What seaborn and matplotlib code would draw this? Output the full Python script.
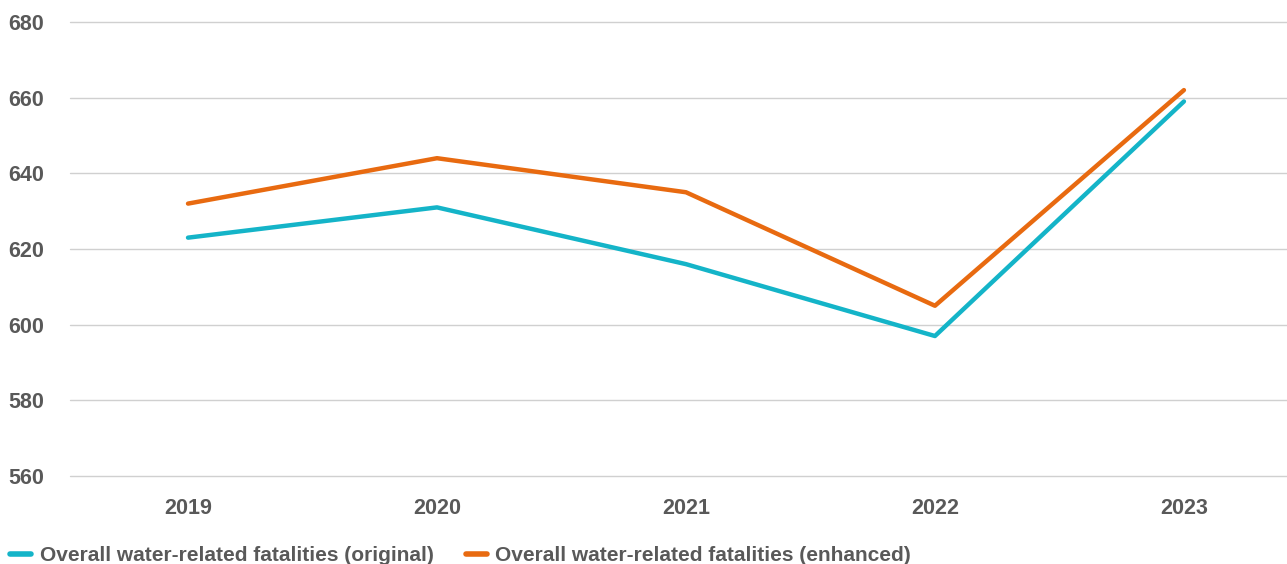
import numpy as np
import pandas as pd
import matplotlib
matplotlib.use("Agg")
import matplotlib.pyplot as plt
import matplotlib.transforms as mtransforms
from matplotlib.lines import Line2D
import seaborn as sns

years = ["2019", "2020", "2021", "2022", "2023"]
original = [623, 631, 616, 597, 659]
enhanced = [632, 644, 635, 605, 662]
series_names = ["Overall water-related fatalities (original)",
                "Overall water-related fatalities (enhanced)"]
y_ticks = [560, 580, 600, 620, 640, 660, 680]

sns.set_theme(style="white")
plt.rcParams['font.family'] = ['Liberation Sans', 'DejaVu Sans']

df = pd.DataFrame({
    'year': years * 2,
    'value': original + enhanced,
    'series': [series_names[0]] * len(years) + [series_names[1]] * len(years),
})

text_color = '#595959'
colors = ['#14B4C8', '#E86A10']

fig = plt.figure(figsize=(12.87, 5.64), dpi=100)
ax = fig.add_axes([0.0544, 0.156, 0.9456, 0.805])

# horizontal gridlines
for y in y_ticks:
    ax.axhline(y, color='#d0d0d0', linewidth=1.0, zorder=0, clip_on=False)

sns.lineplot(data=df, x='year', y='value', hue='series',
             palette=colors, linewidth=3.2,
             sort=False, ax=ax, legend=False)

ax.set_ylim(560, 680)
ax.set_yticks(y_ticks)
ax.set_xlim(-0.474, 4.414)
ax.set_xlabel('')
ax.set_ylabel('')
for s in ax.spines.values():
    s.set_visible(False)
ax.tick_params(axis='both', length=0, labelsize=15.5, labelcolor=text_color)
ax.tick_params(axis='x', pad=16)
ax.tick_params(axis='y', pad=0)
for lab in ax.get_xticklabels() + ax.get_yticklabels():
    lab.set_fontweight('bold')
for lab in ax.get_yticklabels():
    lab.set_horizontalalignment('left')
    lab.set_transform(mtransforms.blended_transform_factory(fig.transFigure, ax.transData))
    lab.set_x(8 / 1287)

handles = [Line2D([0], [0], color=colors[0], lw=4),
           Line2D([0], [0], color=colors[1], lw=4)]
fig.legend(handles, series_names, loc='lower left', bbox_to_anchor=(-0.0065, -0.035),
           ncol=2, frameon=False, handlelength=1.0, handletextpad=0.4,
           columnspacing=1.55, prop={'weight': 'bold', 'size': 15},
           labelcolor=text_color)

fig.savefig('out.png', dpi=100)
